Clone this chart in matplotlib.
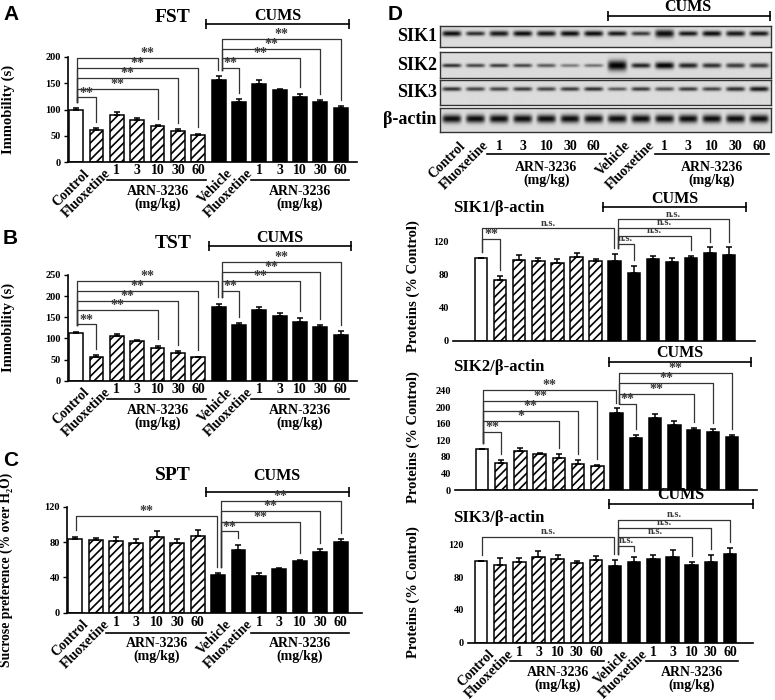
import numpy as np
import matplotlib
matplotlib.use('Agg')
import matplotlib.pyplot as plt
from matplotlib.transforms import blended_transform_factory as btf

W, H = 775, 700
plt.rcParams['font.family'] = ['Liberation Serif', 'DejaVu Serif']
plt.rcParams['font.weight'] = 'bold'
plt.rcParams['axes.labelweight'] = 'bold'
plt.rcParams['hatch.linewidth'] = 1.2
plt.rcParams['axes.linewidth'] = 1.2

# ---------------- data ----------------
groups = ['Control', 'Fluoxetine', '1', '3', '10', '30', '60',
          'Vehicle', 'Fluoxetine', '1', '3', '10', '30', '60']
drug_label = 'ARN-3236\n(mg/kg)'
cums_label = 'CUMS'

fst_mean = [100, 61, 90, 80, 68, 60, 52, 157, 114, 149, 137, 124, 115, 103]
fst_err = [3, 4, 5, 4, 2, 2, 2, 7, 6, 7, 3, 6, 3, 3]
fst_sig = [(0, 1, 123, '**'), (0, 4, 140, '**'), (0, 5, 160, '**'), (0, 6, 179, '**'),
           (0, 7, 198, '**'), (7, 8, 180, '**'), (7, 11, 199, '**'), (7, 12, 216, '**'),
           (7, 13, 234, '**')]

tst_mean = [113, 57, 105, 93, 77, 66, 55, 175, 131, 168, 153, 139, 126, 109]
tst_err = [3, 3, 6, 3, 6, 4, 2, 7, 5, 7, 7, 10, 6, 8]
tst_sig = [(0, 1, 133, '**'), (0, 4, 167, '**'), (0, 5, 188, '**'), (0, 6, 212, '**'),
           (0, 7, 236, '**'), (7, 8, 213, '**'), (7, 11, 236, '**'), (7, 12, 258, '**'),
           (7, 13, 280, '**')]

spt_mean = [84, 82, 81, 79, 86, 79, 87, 43, 71, 42, 49, 58, 69, 80]
spt_err = [2, 3, 5, 5, 6, 4, 7, 2, 6, 3, 2, 2, 3, 3]
spt_sig = [(0, 7, 110, '**'), (7, 8, 92, '**'), (7, 11, 103, '**'), (7, 12, 115, '**'),
           (7, 13, 127, '**')]

sik1_mean = [100, 74, 98, 96, 94, 102, 96, 97, 82, 99, 95, 100, 106, 104]
sik1_err = [0, 5, 6, 4, 5, 4, 3, 8, 9, 4, 5, 3, 7, 9]
sik1_sig = [(0, 1, 123, '**'), (0, 7, 136, 'n.s.'), (7, 8, 117, 'n.s.'), (7, 11, 127, 'n.s.'),
            (7, 12, 137, 'n.s.'), (7, 13, 147, 'n.s.')]

sik2_mean = [100, 66, 94, 86, 78, 64, 57, 187, 126, 175, 157, 145, 139, 127]
sik2_err = [0, 6, 7, 4, 9, 8, 4, 10, 7, 8, 9, 6, 8, 5]
sik2_sig = [(0, 1, 141, '**'), (0, 4, 167, '*'), (0, 5, 191, '**'), (0, 6, 216, '**'),
            (0, 7, 241, '**'), (7, 8, 209, '**'), (7, 11, 233, '**'), (7, 12, 258, '**'),
            (7, 13, 282, '**')]

sik3_mean = [100, 95, 99, 105, 102, 97, 101, 93, 98, 102, 104, 95, 98, 108]
sik3_err = [0, 8, 4, 7, 5, 3, 5, 8, 7, 5, 9, 3, 9, 8]
sik3_sig = [(0, 7, 129, 'n.s.'), (7, 8, 118, 'n.s.'), (7, 11, 129, 'n.s.'), (7, 12, 140, 'n.s.'),
            (7, 13, 150, 'n.s.')]

# western blot band darkness (0-1) and relative band thickness per lane
blot_rows = ['SIK1', 'SIK2', 'SIK3', 'β-actin']
sik1_band = [0.95, 0.8, 0.9, 0.95, 0.9, 0.95, 0.95, 0.9, 0.75, 0.95, 0.9, 0.95, 0.9, 0.9]
sik1_thick = [1, 0.8, 1, 1, 1, 1, 1, 0.9, 0.8, 1.4, 0.9, 1, 1, 0.9]
sik2_band = [0.8, 0.7, 0.75, 0.7, 0.6, 0.45, 0.5, 1.0, 0.85, 1.0, 0.85, 0.8, 0.75, 0.75]
sik2_thick = [1, 1, 1, 1, 1, 0.9, 0.9, 2.8, 1.3, 1.8, 1.4, 1.3, 1.3, 1.3]
sik3_band = [0.8, 0.7, 0.7, 0.75, 0.7, 0.75, 0.8, 0.6, 0.75, 0.65, 0.75, 0.7, 0.8, 0.9]
sik3_thick = [1, 1, 1, 1, 1, 1, 1, 0.9, 1, 1, 1, 1, 1.1, 1.2]
actin_band = [0.95, 0.95, 0.95, 0.95, 0.95, 0.95, 0.95, 0.95, 0.95, 0.95, 0.95, 0.95, 0.95, 0.95]
actin_thick = [1, 1, 1, 1, 1, 1, 1, 1, 1, 1, 1, 1, 1, 1]

# ---------------- helpers ----------------
fig = plt.figure(figsize=(W / 100, H / 100), dpi=100)
LAB_FS = 10


def pax(x0, y0, x1, y1):
    return fig.add_axes([x0 / W, 1 - y1 / H, (x1 - x0) / W, (y1 - y0) / H])


def ftext(xp, yp, s, **kw):
    fig.text(xp / W, 1 - yp / H, s, **kw)


def bar_panel(box, mean, err, sig, ytop, yticks, xlim, cums_rng, cums_y, cums_gap,
              left_spine=True, width=0.68, sig_fs=10, tick_fs=7.5):
    ax = pax(*box)
    x = np.arange(len(mean))
    for i in range(len(mean)):
        if i == 0:
            fc, hatch = 'white', None
        elif i < 7:
            fc, hatch = 'white', '////'
        else:
            fc, hatch = 'black', None
        ax.bar(x[i], mean[i], width=width, color=fc, edgecolor='black', hatch=hatch,
               linewidth=1.1, zorder=2)
    ax.errorbar(x, mean, yerr=[np.zeros(len(err)), err], fmt='none', ecolor='black',
                elinewidth=1.1, capsize=2.2, capthick=1.1, zorder=3)
    ax.set_xlim(*xlim)
    ax.set_ylim(0, ytop)
    ax.set_yticks(yticks)
    ax.set_xticks([])
    for s in ['top', 'right']:
        ax.spines[s].set_visible(False)
    if not left_spine:
        ax.spines['left'].set_visible(False)
        ax.tick_params(axis='y', length=0, pad=3, labelsize=tick_fs)
    else:
        ax.tick_params(axis='y', length=3, width=1, pad=2, labelsize=tick_fs)
    for t in ax.get_yticklabels():
        t.set_fontweight('bold')
    gap = 0.06 * ytop
    for (i, j, h, lab) in sig:
        xi = i + (0.05 if i == 0 else 0.15)
        xj = j - (0.05 if j == 7 else 0.0)
        yi = mean[i] + err[i] + gap
        yj = mean[j] + err[j] + gap
        ax.plot([xi, xi, xj, xj], [yi, h, h, yj], color='#333333', lw=0.9,
                clip_on=False, zorder=4)
        star = lab != 'n.s.'
        ax.annotate(lab, xy=((xi + xj) / 2, h), xytext=(0, -1.5 if star else 0.5),
                    textcoords='offset points', ha='center', va='bottom',
                    fontsize=sig_fs if star else 7.5, color='#3a3a3a',
                    annotation_clip=False)
    ax.plot(cums_rng, [cums_y, cums_y], color='black', lw=1.2, marker='|',
            markersize=7, mew=1.2, clip_on=False)
    ax.annotate(cums_label, xy=(np.mean(cums_rng), cums_y), xytext=(0, cums_gap),
                textcoords='offset points', ha='center', va='bottom', fontsize=11.5,
                annotation_clip=False)
    return ax


def group_xlabels(ax, axh, rot_dy=5, num_dy=9, ul_dy=18, arn_dy=23, fs=LAB_FS, rot_dx=0.35,
                  ul=((1.5, 6.4), (8.6, 13.4))):
    tr = btf(ax.transData, ax.transAxes)
    for i in [0, 1, 7, 8]:
        ax.text(i + rot_dx, -rot_dy / axh, groups[i], rotation=45, ha='right', va='top',
                rotation_mode='anchor', transform=tr, fontsize=fs)
    for i in list(range(2, 7)) + list(range(9, 14)):
        ax.text(i, -num_dy / axh, groups[i], ha='center', va='center', transform=tr,
                fontsize=fs)
    for (a, b) in ul:
        ax.plot([a, b], [-ul_dy / axh] * 2, transform=tr, color='black', lw=1.2,
                clip_on=False)
    for c in [4, 11]:
        ax.text(c, -arn_dy / axh, drug_label, ha='center', va='top', transform=tr,
                fontsize=fs, linespacing=0.95)


# ---------------- Panel A ----------------
axA = bar_panel((68, 57, 357, 162), fst_mean, fst_err, fst_sig, 200, [0, 50, 100, 150, 200],
                (-0.4, 13.8), (6.4, 13.4), 262, 0.5)
axA.set_ylabel('Immobility (s)', fontsize=10.5)
axA.yaxis.set_label_coords(-(68 - 15) / 289, 0.5)
group_xlabels(axA, 105)
ftext(173, 18, 'FST', ha='center', va='center', fontsize=14)

# ---------------- Panel B ----------------
axB = bar_panel((68, 275, 357, 380.7), tst_mean, tst_err, tst_sig, 250,
                [0, 50, 100, 150, 200, 250], (-0.4, 13.8), (6.55, 13.5), 318, 0.5)
axB.set_ylabel('Immobility (s)', fontsize=10.5)
axB.yaxis.set_label_coords(-(68 - 15) / 289, 0.5)
group_xlabels(axB, 105.7)
ftext(173, 243, 'TST', ha='center', va='center', fontsize=14)

# ---------------- Panel C ----------------
axC = bar_panel((67, 506.7, 362, 612.7), spt_mean, spt_err, spt_sig, 120, [0, 40, 80, 120],
                (-0.4, 14.05), (6.4, 13.4), 137, 5.5)
axC.set_ylabel('Sucrose preference (% over H₂O)', fontsize=9.8)
axC.yaxis.set_label_coords(-(67 - 13) / 295, 0.4)
group_xlabels(axC, 106, num_dy=10, ul_dy=20, arn_dy=24)
ftext(173, 475, 'SPT', ha='center', va='center', fontsize=14)

# ---------------- Panel D : blot ----------------
bands = [(sik1_band, sik1_thick, 0.36, 0.13, (26, 47)),
         (sik2_band, sik2_thick, 0.52, 0.07, (52, 78)),
         (sik3_band, sik3_thick, 0.36, 0.08, (80, 105)),
         (actin_band, actin_thick, 0.45, 0.17, (108, 132))]
L, Hs = 30, 50
u = (np.arange(L) + 0.5) / L
hprof = np.exp(-((u - 0.5) / 0.4) ** 6)
v = (np.arange(Hs) + 0.5) / Hs
blot_axes = []
for name, (dark, thick, yc, sg, (y0, y1)) in zip(blot_rows, bands):
    bax = pax(440, y0, 771, y1)
    img = np.full((Hs, len(dark) * L), 0.86)
    for i, (d, w) in enumerate(zip(dark, thick)):
        vprof = np.exp(-((v - yc) / (sg * w)) ** 2)
        img[:, i * L:(i + 1) * L] -= 0.86 * d * np.outer(vprof, hprof)
    bax.imshow(np.clip(img, 0, 1), cmap='gray', vmin=0, vmax=1, aspect='auto',
               extent=(-0.5, len(dark) - 0.5, 1, 0), interpolation='bilinear')
    bax.set_xticks([])
    bax.set_yticks([])
    for s in bax.spines.values():
        s.set_linewidth(1.0)
        s.set_color('#333333')
    ftext(437, (y0 + y1) / 2, name, ha='right', va='center', fontsize=13)
    blot_axes.append(bax)

axBl = blot_axes[-1]
group_xlabels(axBl, 24, rot_dy=7, num_dy=15, ul_dy=22, arn_dy=29, rot_dx=0.3,
              ul=((1.5, 6.5), (8.6, 13.4)))
axTop = blot_axes[0]
trT = btf(axTop.transData, axTop.transAxes)
axTop.plot([6.6, 13.45], [1 + 10 / 21] * 2, transform=trT, color='black', lw=1.2,
           marker='|', markersize=7, mew=1.2, clip_on=False)
axTop.text(10.0, 1 + 11 / 21, cums_label, transform=trT, ha='center', va='bottom',
           fontsize=11.5)

# ---------------- Panel D : quantification ----------------
axS1 = bar_panel((453, 241.7, 755, 340.7), sik1_mean, sik1_err, sik1_sig, 120,
                 [0, 40, 80, 120], (-1.47, 14.35), (6.4, 13.9), 161.6, 0.5,
                 left_spine=False, width=0.65)
axS1.set_ylabel('Proteins (% Control)', fontsize=10.5)
axS1.yaxis.set_label_coords(-(453 - 420) / 302, 0.55)
ftext(453, 208, 'SIK1/β-actin', ha='left', va='center', fontsize=12)

axS2 = bar_panel((455, 390.7, 757, 490), sik2_mean, sik2_err, sik2_sig, 240,
                 [0, 40, 80, 120, 160, 200, 240], (-1.4, 14.3), (6.6, 14.0), 310, 0.5,
                 left_spine=False, width=0.65)
axS2.set_ylabel('Proteins (% Control)', fontsize=10.5)
axS2.yaxis.set_label_coords(-(455 - 420) / 302, 0.53)
ftext(453, 366.7, 'SIK2/β-actin', ha='left', va='center', fontsize=12)

axS3 = bar_panel((468, 544.3, 753, 642.7), sik3_mean, sik3_err, sik3_sig, 120,
                 [0, 40, 80, 120], (-0.68, 14.2), (6.7, 14.2), 169, 0.5,
                 left_spine=False, width=0.65)
axS3.set_ylabel('Proteins (% Control)', fontsize=10.5)
axS3.yaxis.set_label_coords(-(468 - 420) / 285, 0.51)
ftext(453, 518, 'SIK3/β-actin', ha='left', va='center', fontsize=12)
group_xlabels(axS3, 98.4, num_dy=10, ul_dy=18, arn_dy=23)

# ---------------- panel letters ----------------
for lab, xp, yp in [('A', 3, 15), ('B', 3, 238), ('C', 3, 460), ('D', 388, 15)]:
    fig.text(xp / W, 1 - yp / H, lab, ha='left', va='center', fontsize=15,
             family=['Liberation Sans', 'DejaVu Sans'], weight='bold')

fig.savefig('out.png', dpi=100)
